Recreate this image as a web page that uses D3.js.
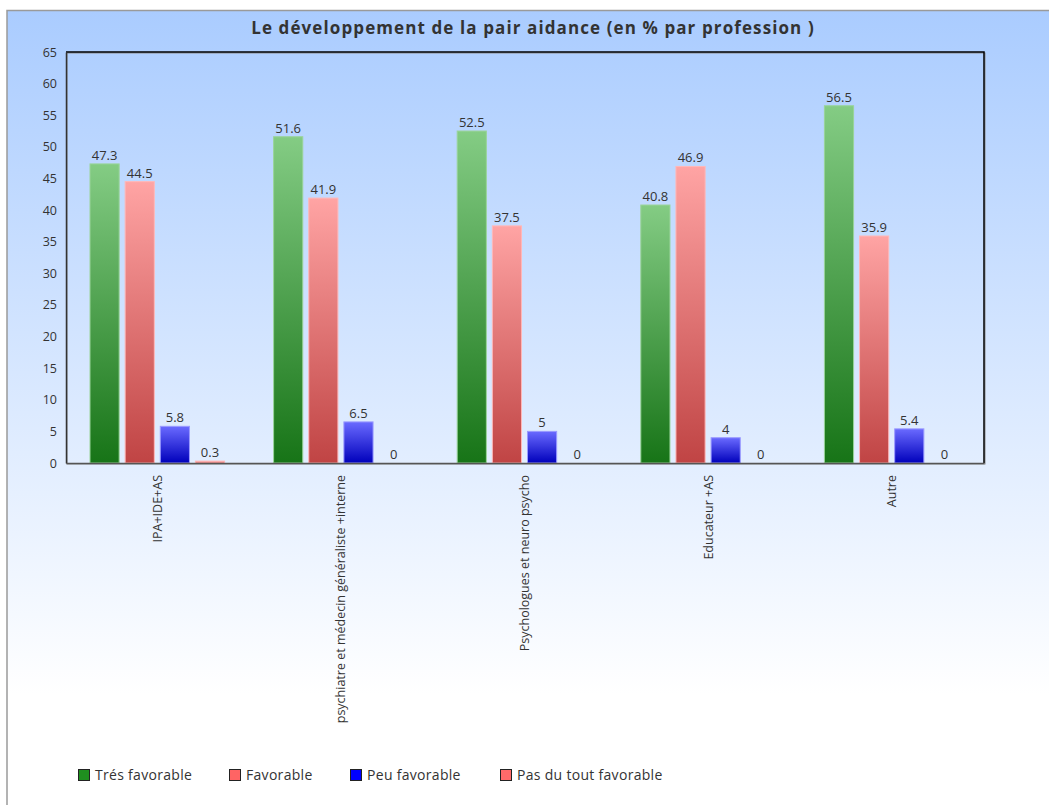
<!DOCTYPE html>
<html>
<head>
<meta charset="utf-8">
<script src="https://cdn.jsdelivr.net/npm/d3@7"></script>
<style>
  html, body { margin: 0; padding: 0; background: #ffffff; }
  svg { display: block; font-family: "Open Sans", "DejaVu Sans", sans-serif; }
</style>
</head>
<body>
<svg id="chart" width="1049" height="805"></svg>
<script>
// Professions (x categories)
const categories = [
  "IPA+IDE+AS",
  "psychiatre et médecin généraliste +interne",
  "Psychologues et neuro psycho",
  "Educateur +AS",
  "Autre"
];

// Opinion series, values in % per profession
const seriesNames = ["Trés favorable", "Favorable", "Peu favorable", "Pas du tout favorable"];
const tresFavorable   = [47.3, 51.6, 52.5, 40.8, 56.5];
const favorable       = [44.5, 41.9, 37.5, 46.9, 35.9];
const peuFavorable    = [5.8, 6.5, 5, 4, 5.4];
const pasDuToutFavorable = [0.3, 0, 0, 0, 0];

const yTicks = [0, 5, 10, 15, 20, 25, 30, 35, 40, 45, 50, 55, 60, 65];

const title = "Le développement de la pair aidance (en % par profession )";

const seriesValues = [tresFavorable, favorable, peuFavorable, pasDuToutFavorable];

// bar gradients (top, bottom), stroke, legend swatch
const palette = [
  { top: "#84cc84", bottom: "#177417", stroke: "#9ad49a", swatch: "#1f8f1f" },
  { top: "#ffa4a4", bottom: "#c04444", stroke: "#ffb8b8", swatch: "#ff6464" },
  { top: "#6a6aff", bottom: "#0000bb", stroke: "#9a9aff", swatch: "#0000ff" },
  { top: "#ffa4a4", bottom: "#e05a5a", stroke: "#ffb8b8", swatch: "#ff6a6a" }
];

const svg = d3.select("#chart");
const W = 1049, H = 805;
const defs = svg.append("defs");

// page background gradient
const bg = defs.append("linearGradient").attr("id", "bgGrad")
  .attr("x1", 0).attr("y1", 0).attr("x2", 0).attr("y2", 1);
bg.append("stop").attr("offset", "0%").attr("stop-color", "#aaccff");
bg.append("stop").attr("offset", "85%").attr("stop-color", "#ffffff");
bg.append("stop").attr("offset", "100%").attr("stop-color", "#ffffff");

svg.append("rect").attr("x", 7).attr("y", 10.5).attr("width", W + 10).attr("height", H)
  .attr("fill", "url(#bgGrad)").attr("stroke", "#9a9a9a").attr("stroke-width", 1.5);

palette.forEach((p, i) => {
  const g = defs.append("linearGradient").attr("id", "barGrad" + i)
    .attr("x1", 0).attr("y1", 0).attr("x2", 0).attr("y2", 1);
  g.append("stop").attr("offset", "0%").attr("stop-color", p.top);
  g.append("stop").attr("offset", "100%").attr("stop-color", p.bottom);
});

// title
svg.append("text").attr("x", 533).attr("y", 34).attr("text-anchor", "middle")
  .attr("font-size", 17).attr("font-weight", "bold").attr("fill", "#333333")
  .attr("letter-spacing", 1.1)
  .text(title);

const plot = { left: 66, top: 52, right: 984, bottom: 463 };

const x0 = d3.scaleBand().domain(categories).range([plot.left, plot.right]).paddingInner(0).paddingOuter(0);
const x1 = d3.scaleBand().domain(d3.range(seriesNames.length))
  .range([24, x0.bandwidth() - 25]).paddingInner(0.17);
const y = d3.scaleLinear().domain([0, 65]).range([plot.bottom, plot.top]);

// plot frame shadow + frame
svg.append("rect").attr("x", plot.left + 1).attr("y", plot.top + 1)
  .attr("width", plot.right - plot.left).attr("height", plot.bottom - plot.top)
  .attr("fill", "none").attr("stroke", "#8a8a8a").attr("stroke-width", 1);
svg.append("path")
  .attr("d", `M${plot.left},${plot.top}H${plot.right}V${plot.bottom}`)
  .attr("fill", "none").attr("stroke", "#000000").attr("stroke-width", 1.5);

// y axis labels
const yAxis = d3.axisLeft(y).tickValues(yTicks).tickSize(0).tickPadding(9);
const yg = svg.append("g").attr("transform", `translate(${plot.left},0)`).call(yAxis);
yg.select(".domain").attr("stroke", "#333333").attr("stroke-width", 1.5);
yg.selectAll("text").attr("font-size", 12.5).attr("fill", "#333333")
  .attr("font-family", "'Open Sans', sans-serif");

// bars
const groups = svg.append("g").selectAll("g").data(categories).join("g")
  .attr("transform", d => `translate(${x0(d)},0)`);

groups.each(function(cat, ci) {
  const g = d3.select(this);
  seriesValues.forEach((vals, si) => {
    const v = vals[ci];
    const bx = x1(si), bw = x1.bandwidth();
    if (v > 0) {
      g.append("rect")
        .attr("x", bx).attr("y", y(v))
        .attr("width", bw).attr("height", Math.max(y(0) - y(v), 1))
        .attr("fill", `url(#barGrad${si})`)
        .attr("stroke", palette[si].stroke).attr("stroke-width", 1);
    }
    g.append("text")
      .attr("x", bx + bw / 2).attr("y", y(v) - 4)
      .attr("text-anchor", "middle").attr("font-size", 13).attr("fill", "#333333")
      .text(v);
  });
});

// x axis line
const xAxis = d3.axisBottom(x0).tickSize(0).tickPadding(0);
const xg = svg.append("g").attr("transform", `translate(0,${plot.bottom})`).call(xAxis);
xg.select(".domain").attr("stroke", "#555555").attr("stroke-width", 1.5);
xg.selectAll(".tick text")
  .attr("font-size", 12.5).attr("fill", "#333333")
  .attr("font-family", "'Open Sans', sans-serif")
  .attr("text-anchor", "end")
  .attr("dy", null)
  .attr("transform", "translate(4,12) rotate(-90)");

// legend
const legendX = [78, 229, 350, 500];
const lg = svg.append("g").selectAll("g").data(seriesNames).join("g")
  .attr("transform", (d, i) => `translate(${legendX[i]},769)`);
lg.append("rect").attr("x", 0.5).attr("y", 0.5).attr("width", 11).attr("height", 11)
  .attr("fill", (d, i) => palette[i].swatch).attr("stroke", "#222222").attr("stroke-width", 1);
lg.append("text").attr("x", 17).attr("y", 11).attr("font-size", 14).attr("fill", "#333333")
  .attr("letter-spacing", 0.3)
  .text(d => d);
</script>
</body>
</html>
